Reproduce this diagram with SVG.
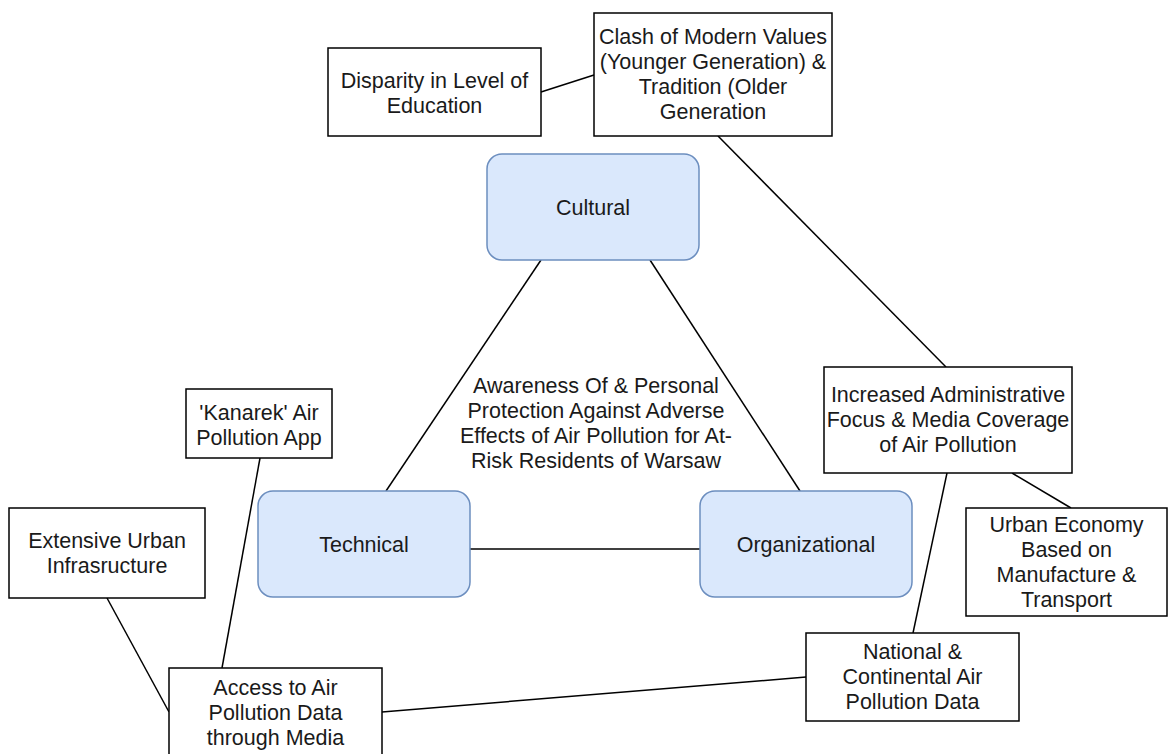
<svg xmlns="http://www.w3.org/2000/svg" width="1169" height="754" viewBox="0 0 1169 754">
<style>
.box{fill:#ffffff;stroke:#000000;stroke-width:1.5}
.dim{fill:#dae8fc;stroke:#6c8ebf;stroke-width:1.5}
.t{font-family:"Liberation Sans",Arial,sans-serif;font-size:21.5px;fill:#1a1a1a;text-anchor:middle}
.c{stroke:#000000;stroke-width:1.5;fill:none}
</style>
<rect width="1169" height="754" fill="#ffffff"/>
<g id="connectors">
<line class="c" x1="541" y1="92" x2="594" y2="75"/>
<line class="c" x1="718" y1="136" x2="946" y2="367"/>
<line class="c" x1="541" y1="260" x2="386" y2="491"/>
<line class="c" x1="650" y1="260" x2="800" y2="491"/>
<line class="c" x1="470" y1="549" x2="700" y2="549"/>
<line class="c" x1="260" y1="458" x2="222" y2="668"/>
<line class="c" x1="107" y1="598" x2="169" y2="712"/>
<line class="c" x1="382" y1="712" x2="806" y2="677"/>
<line class="c" x1="913" y1="633" x2="947" y2="473"/>
<line class="c" x1="1012" y1="473" x2="1071" y2="508"/>
</g>
<g id="disparity">
<rect class="box" x="328" y="48" width="213" height="88"/>
<text class="t" x="434.5" y="88">Disparity in Level of</text>
<text class="t" x="434.5" y="113">Education</text>
</g>
<g id="clash">
<rect class="box" x="594" y="13" width="238" height="123"/>
<text class="t" x="713" y="44">Clash of Modern Values</text>
<text class="t" x="713" y="69">(Younger Generation) &amp;</text>
<text class="t" x="713" y="94">Tradition (Older</text>
<text class="t" x="713" y="119">Generation</text>
</g>
<g id="cultural">
<rect class="dim" x="487" y="154" width="212" height="106" rx="15"/>
<text class="t" x="593" y="215">Cultural</text>
</g>
<g id="technical">
<rect class="dim" x="258" y="491" width="212" height="106" rx="15"/>
<text class="t" x="364" y="552">Technical</text>
</g>
<g id="organizational">
<rect class="dim" x="700" y="491" width="212" height="106" rx="15"/>
<text class="t" x="806" y="552">Organizational</text>
</g>
<g id="center">
<text class="t" x="596" y="393">Awareness Of &amp; Personal</text>
<text class="t" x="596" y="418">Protection Against Adverse</text>
<text class="t" x="596" y="443">Effects of Air Pollution for At-</text>
<text class="t" x="596" y="468">Risk Residents of Warsaw</text>
</g>
<g id="kanarek">
<rect class="box" x="186" y="389" width="146" height="69"/>
<text class="t" x="259" y="420">'Kanarek' Air</text>
<text class="t" x="259" y="445">Pollution App</text>
</g>
<g id="extensive">
<rect class="box" x="9" y="508" width="196" height="90"/>
<text class="t" x="107" y="548">Extensive Urban</text>
<text class="t" x="107" y="573">Infrasructure</text>
</g>
<g id="access">
<rect class="box" x="169" y="668" width="213" height="90"/>
<text class="t" x="275.5" y="695">Access to Air</text>
<text class="t" x="275.5" y="720">Pollution Data</text>
<text class="t" x="275.5" y="745">through Media</text>
</g>
<g id="increased">
<rect class="box" x="824" y="367" width="248" height="106"/>
<text class="t" x="948" y="402">Increased Administrative</text>
<text class="t" x="948" y="427">Focus &amp; Media Coverage</text>
<text class="t" x="948" y="452">of Air Pollution</text>
</g>
<g id="urban">
<rect class="box" x="966" y="508" width="201" height="108"/>
<text class="t" x="1066.5" y="532">Urban Economy</text>
<text class="t" x="1066.5" y="557">Based on</text>
<text class="t" x="1066.5" y="582">Manufacture &amp;</text>
<text class="t" x="1066.5" y="607">Transport</text>
</g>
<g id="national">
<rect class="box" x="806" y="633" width="213" height="88"/>
<text class="t" x="912.5" y="659">National &amp;</text>
<text class="t" x="912.5" y="684">Continental Air</text>
<text class="t" x="912.5" y="709">Pollution Data</text>
</g>
</svg>
